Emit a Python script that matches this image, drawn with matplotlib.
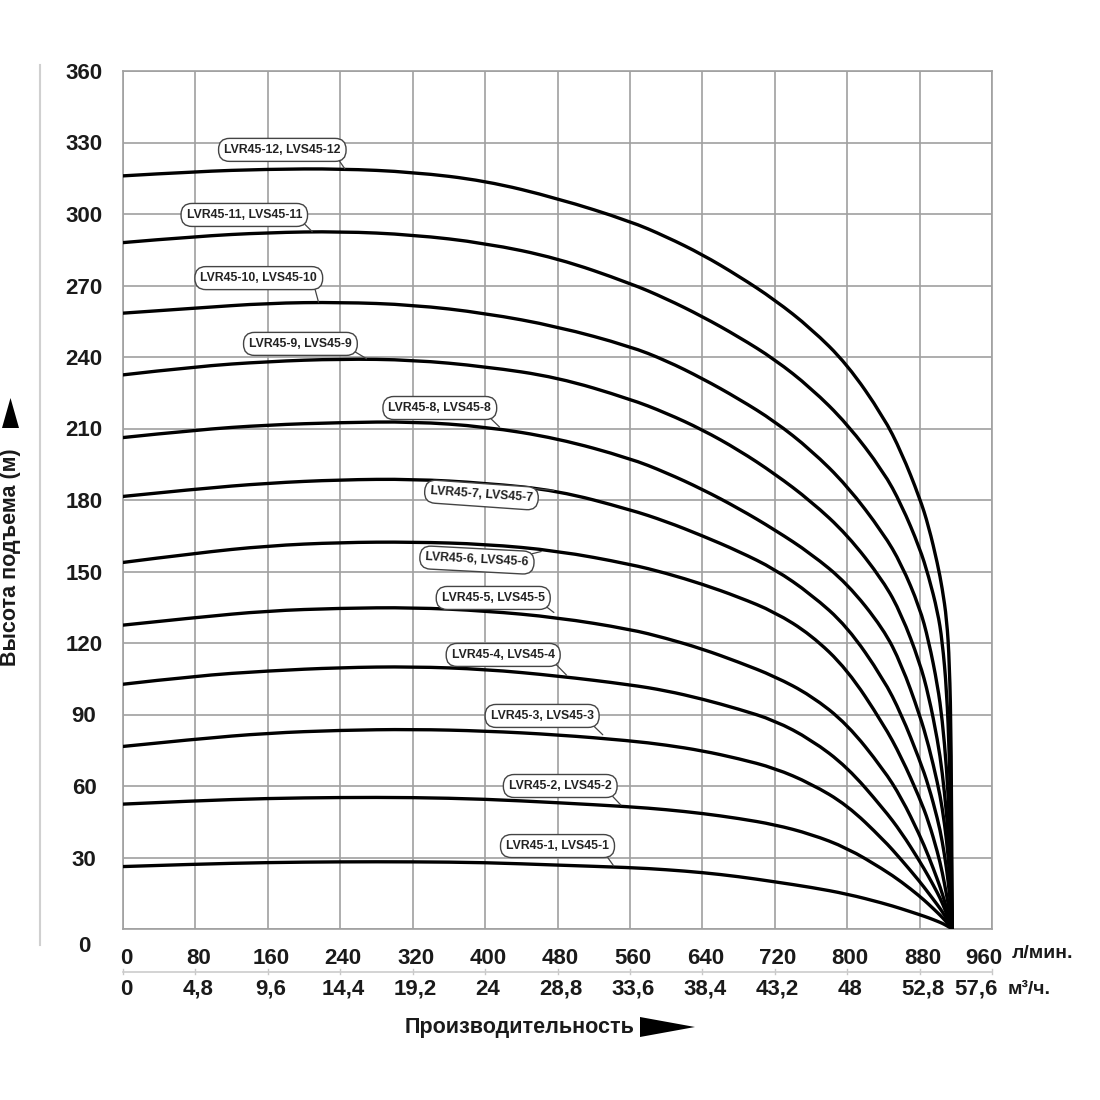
import matplotlib
matplotlib.use("Agg")
import matplotlib.pyplot as plt
from matplotlib.patches import Polygon, PathPatch
from matplotlib.lines import Line2D
from matplotlib.path import Path

plt.rcParams['font.family'] = ['Liberation Sans', 'DejaVu Sans']

flow = [0, 80, 160, 240, 320, 400, 480, 560, 600, 640, 680, 720, 760, 800, 840,
        860, 880, 890, 900, 905, 910, 913, 915, 916]

# Head (m) for each model, 1..12 stages
head_1 = [26.2, 27.2, 27.9, 28.2, 28.2, 27.9, 26.8, 25.8, 24.9, 23.7, 22.0, 19.8,
          17.5, 14.7, 10.8, 8.5, 6.0, 4.7, 3.2, 2.4, 1.4, 0.7, 0.3, 0]
head_2 = [52.4, 53.8, 54.8, 55.2, 55.2, 54.5, 53.0, 51.3, 50.1, 48.5, 46.4, 43.8,
          39.8, 34.0, 25.0, 19.8, 13.8, 10.4, 6.8, 4.9, 2.8, 1.4, 0.5, 0]
head_3 = [76.6, 79.7, 82.2, 83.4, 83.8, 83.1, 81.5, 79.0, 77.2, 74.8, 71.5, 67.5,
          61.0, 52.0, 37.5, 29.0, 20.0, 15.0, 10.0, 7.3, 4.3, 2.3, 0.9, 0]
head_4 = [102.7, 106.2, 108.3, 109.7, 110.1, 109.0, 106.2, 102.5, 100.0, 96.5, 92.3,
          87.5, 79.5, 68.0, 50.5, 40.5, 28.5, 22.0, 15.0, 11.0, 6.3, 3.3, 1.3, 0]
head_5 = [127.5, 130.7, 133.5, 134.6, 134.9, 133.5, 130.7, 125.8, 122.0, 117.5,
          112.0, 106.0, 98.0, 86.0, 67.0, 55.0, 39.5, 30.5, 20.5, 15.0, 8.5, 4.5,
          1.8, 0]
head_6 = [153.8, 157.7, 160.8, 162.2, 162.4, 161.5, 158.7, 153.1, 149.3, 144.7,
          139.3, 133.0, 123.5, 109.0, 86.0, 72.0, 55.0, 45.0, 32.0, 24.0, 14.0, 7.5,
          3.0, 0]
head_7 = [181.5, 184.6, 187.1, 188.5, 188.8, 187.1, 184.0, 176.0, 171.0, 165.0,
          158.5, 151.0, 140.5, 127.0, 105.0, 90.0, 71.0, 60.0, 46.0, 37.0, 25.0,
          15.0, 6.5, 0]
head_8 = [206.2, 209.4, 211.5, 212.5, 212.9, 210.8, 205.9, 197.5, 191.5, 184.5,
          176.5, 167.5, 157.5, 145.0, 126.0, 111.0, 90.0, 77.0, 61.0, 51.0, 37.0,
          24.0, 11.0, 0]
head_9 = [232.5, 236.0, 238.1, 239.2, 238.8, 236.0, 231.5, 222.4, 216.5, 209.5,
          201.0, 191.0, 179.5, 165.5, 146.0, 132.0, 112.0, 98.0, 79.0, 66.0, 48.0,
          32.0, 15.0, 0]
head_10 = [258.4, 260.5, 262.6, 263.0, 261.9, 258.4, 252.8, 244.5, 238.5, 231.0,
           222.5, 213.0, 201.0, 186.0, 166.0, 153.0, 135.0, 121.0, 102.0, 88.0,
           67.0, 45.0, 22.0, 0]
head_11 = [288.0, 290.6, 292.2, 292.7, 291.3, 287.8, 281.5, 271.0, 264.5, 257.0,
           248.5, 239.0, 227.0, 212.0, 192.0, 178.0, 160.0, 148.0, 133.0, 121.0,
           100.0, 72.0, 38.0, 0]
head_12 = [316.0, 317.8, 318.8, 319.0, 317.6, 314.0, 306.6, 297.0, 290.5, 283.0,
           274.0, 264.0, 252.0, 237.0, 215.0, 200.0, 181.0, 169.0, 153.0, 143.0,
           130.0, 112.0, 78.0, 0]

heads = [head_1, head_2, head_3, head_4, head_5, head_6,
         head_7, head_8, head_9, head_10, head_11, head_12]
models = [f"LVR45-{n}, LVS45-{n}" for n in range(1, 13)]

x_ticks = [0, 80, 160, 240, 320, 400, 480, 560, 640, 720, 800, 880, 960]
x_labels_lmin = ["0", "80", "160", "240", "320", "400", "480", "560", "640",
                 "720", "800", "880", "960"]
x_labels_m3h = ["0", "4,8", "9,6", "14,4", "19,2", "24", "28,8", "33,6", "38,4",
                "43,2", "48", "52,8", "57,6"]
y_ticks = [0, 30, 60, 90, 120, 150, 180, 210, 240, 270, 300, 330, 360]

# label box centres, the point on the curve each tail touches, and where the
# tail leaves the box (fraction of the box)
label_pos = [(480, 34.8), (483, 60.0), (463, 89.4), (420, 115.0), (409, 138.9),
             (391, 154.8), (396, 182.1), (350, 218.6), (196, 245.5), (150, 273.1),
             (134, 299.6), (176, 326.9)]
tail_pos = [(542, 26.5), (550, 52.0), (530, 81.5), (490, 106.5), (476, 132.8),
            (462, 158.4), (476, 184.0), (416, 210.6), (269, 239.3), (216, 263.0),
            (209, 292.6), (245, 319.0)]
tail_rel = [(0.95, 0.0), (0.97, 0.0), (0.96, 0.0), (0.98, 0.0), (0.98, 0.0),
            (0.99, 0.8), (0.99, 0.85), (0.95, 0.0), (0.99, 0.05), (0.97, 0.0),
            (0.99, 0.05), (0.96, 0.0)]
label_rot = [0, 0, 0, 0, 0, -3, -4, 0, 0, 0, 0, 0]


def smooth_path(xs, ys):
    # quadratic segments through the midpoints, the read points act as controls
    verts = [(xs[0], ys[0])]
    codes = [Path.MOVETO]
    for i in range(1, len(xs) - 1):
        verts += [(xs[i], ys[i]), ((xs[i] + xs[i + 1]) / 2, (ys[i] + ys[i + 1]) / 2)]
        codes += [Path.CURVE3, Path.CURVE3]
    verts.append((xs[-1], ys[-1]))
    codes.append(Path.LINETO)
    return Path(verts, codes)


fig = plt.figure(figsize=(11, 11), dpi=100)
W, H = 1100.0, 1100.0
ax = fig.add_axes([123 / W, 1 - 929 / H, (992 - 123) / W, (929 - 71) / H])

grid_col = '#a0a0a0'
txt_col = '#1a1a1a'
ax.set_xlim(0, 960)
ax.set_ylim(0, 360)
ax.set_xticks(x_ticks)
ax.set_yticks(y_ticks)
ax.grid(True, color=grid_col, lw=1.2)
ax.set_axisbelow(True)
for s in ax.spines.values():
    s.set_color(grid_col)
    s.set_linewidth(1.2)
ax.tick_params(length=0)
ax.set_xticklabels([])
ax.set_yticklabels([''] + [str(v) for v in y_ticks[1:]],
                   fontsize=16, fontweight='bold', color=txt_col)
for lbl in ax.get_yticklabels():
    lbl.set_horizontalalignment('center')
ax.tick_params(axis='y', pad=28)
fig.text(84 / W, 1 - 946 / H, '0', ha='center', va='center',
         fontsize=16, fontweight='bold', color=txt_col)

for h in heads:
    ax.add_patch(PathPatch(smooth_path(flow, h), fill=False, ec='black', lw=2.4,
                           capstyle='round', joinstyle='round', zorder=3))

for name, (lx, ly), (tx, ty), rel, rot in zip(models, label_pos, tail_pos,
                                              tail_rel, label_rot):
    ax.annotate(name, xy=(tx, ty), xytext=(lx, ly), ha='center', va='center',
                fontsize=8.8, fontweight='bold', color='#222222', rotation=rot,
                bbox=dict(boxstyle='round,pad=0.45,rounding_size=0.9',
                          fc='white', ec='#444444', lw=1.0),
                arrowprops=dict(arrowstyle='-', color='#444444', lw=0.9,
                                shrinkA=0, shrinkB=0, relpos=rel),
                zorder=4)

# two rows of flow labels under the plot
xt = ax.get_xaxis_transform()
for i, (x, a, b) in enumerate(zip(x_ticks, x_labels_lmin, x_labels_m3h)):
    last = i == len(x_ticks) - 1
    ax.annotate(a, xy=(x, -0.034), xycoords=xt,
                xytext=(-8 if last else 3, 0), textcoords='offset pixels',
                ha='center', va='center', fontsize=16, fontweight='bold',
                color=txt_col, annotation_clip=False)
    ax.annotate(b, xy=(x, -0.070), xycoords=xt,
                xytext=(-16 if last else 3, 0), textcoords='offset pixels',
                ha='center', va='center', fontsize=16, fontweight='bold',
                color=txt_col, annotation_clip=False)
    ax.add_line(Line2D([x, x], [-0.053, -0.047], transform=xt, color='#c8c8c8',
                       lw=1.0, clip_on=False))
ax.add_line(Line2D([0, 960], [-0.050, -0.050], transform=xt, color='#cccccc',
                   lw=1.2, clip_on=False))

fig.text(1012 / W, 1 - 953 / H, "л/мин.", ha='left', va='center',
         fontsize=14, fontweight='bold', color=txt_col)
fig.text(1008 / W, 1 - 990 / H, "м³/ч.", ha='left', va='center',
         fontsize=14, fontweight='bold', color=txt_col)

fig.text(520 / W, 1 - 1027 / H, "Производительность", ha='center', va='center',
         fontsize=15.5, fontweight='bold', color=txt_col)
fig.patches.append(Polygon([(640 / W, 1 - 1017 / H), (640 / W, 1 - 1037 / H),
                            (695 / W, 1 - 1027 / H)], closed=True,
                           transform=fig.transFigure, fc='black', ec='none'))

fig.text(11 / W, 1 - 557 / H, "Высота подъема (м)", ha='center', va='center',
         rotation=90, fontsize=15.5, fontweight='bold', color=txt_col)
fig.patches.append(Polygon([(2 / W, 1 - 428 / H), (19 / W, 1 - 428 / H),
                            (10.5 / W, 1 - 398 / H)], closed=True,
                           transform=fig.transFigure, fc='black', ec='none'))

fig.lines.append(Line2D([40 / W, 40 / W], [1 - 65 / H, 1 - 945 / H],
                        transform=fig.transFigure, color='#d0d0d0', lw=1.5))

fig.savefig("out.png", dpi=100, facecolor='white')
